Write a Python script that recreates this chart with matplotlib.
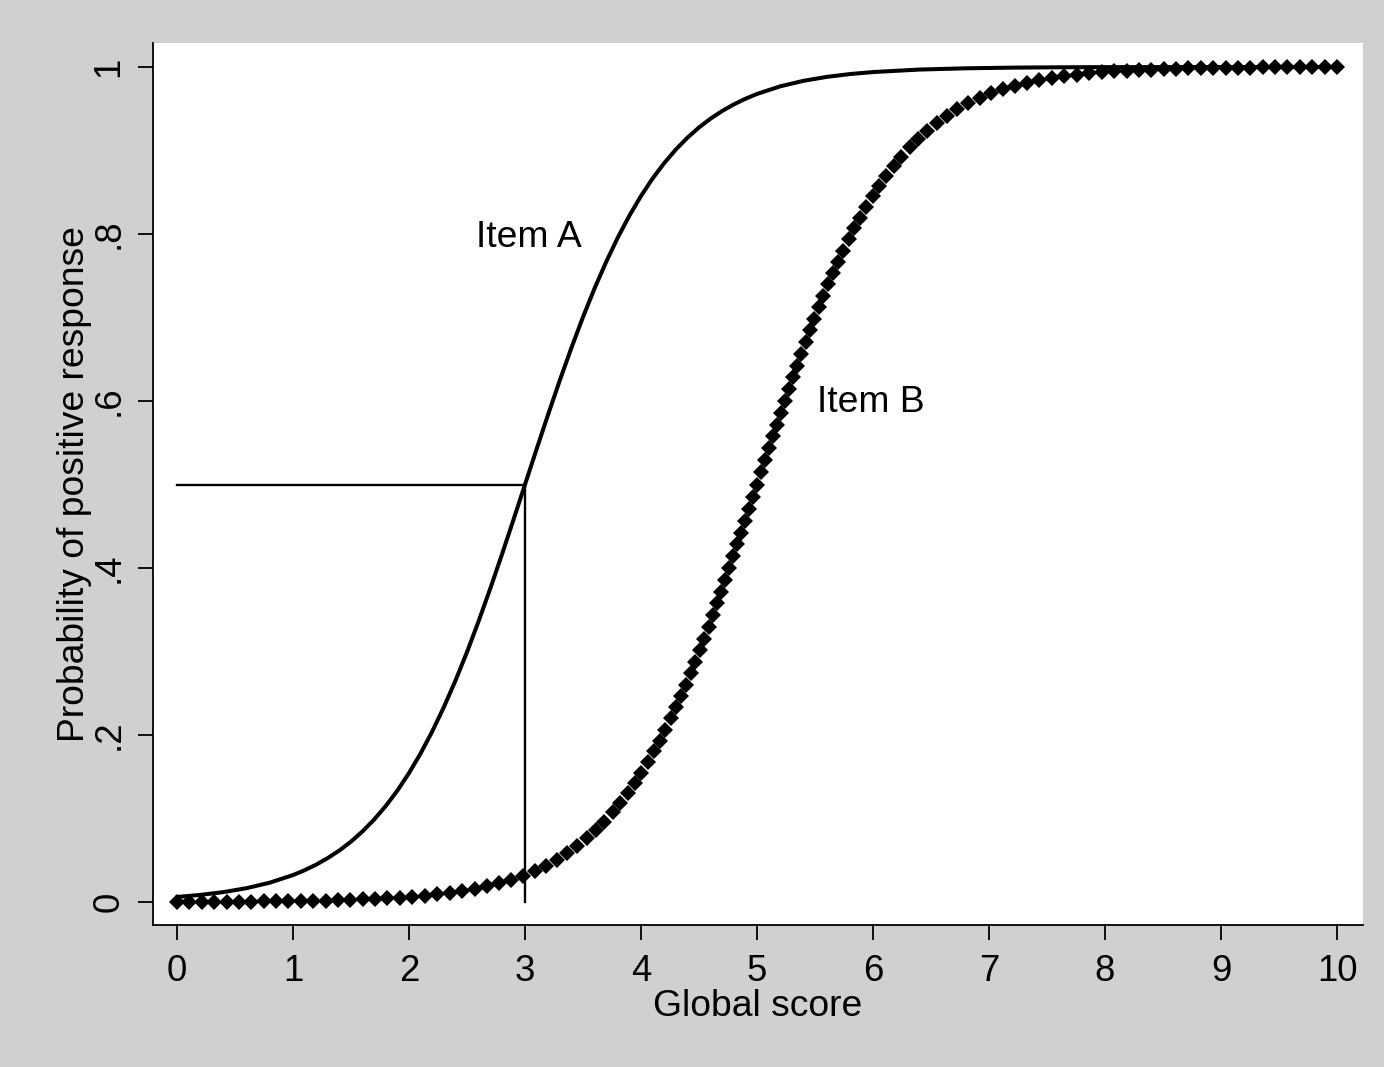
import matplotlib
matplotlib.use("Agg")
import matplotlib.pyplot as plt

plt.rcParams['font.family'] = ['Liberation Sans', 'DejaVu Sans']

# Item A (solid curve)
item_a_x = [0.0, 0.2, 0.4, 0.6, 0.8, 1.0, 1.1, 1.2, 1.3, 1.4, 1.5, 1.6, 1.7, 1.8, 1.9,
            2.0, 2.1, 2.2, 2.3, 2.4, 2.5, 2.6, 2.7, 2.8, 2.9, 3.0, 3.1, 3.2, 3.3, 3.4,
            3.5, 3.6, 3.7, 3.8, 3.9, 4.0, 4.1, 4.2, 4.3, 4.4, 4.5, 4.6, 4.7, 4.8, 4.9,
            5.0, 5.2, 5.4, 5.6, 5.8, 6.0, 6.4, 6.8, 7.2, 7.6, 8.0, 9.0, 10.0]
item_a_y = [0.0061, 0.0085, 0.0119, 0.0166, 0.0232, 0.0323, 0.0381, 0.0448, 0.0527, 0.0618,
            0.0724, 0.0847, 0.0989, 0.1151, 0.1335, 0.1545, 0.1780, 0.2042, 0.2333, 0.2650,
            0.2994, 0.3363, 0.3752, 0.4158, 0.4576, 0.5000, 0.5424, 0.5842, 0.6248, 0.6637,
            0.7006, 0.7350, 0.7667, 0.7958, 0.8220, 0.8455, 0.8665, 0.8849, 0.9011, 0.9153,
            0.9276, 0.9382, 0.9473, 0.9552, 0.9619, 0.9677, 0.9768, 0.9834, 0.9881, 0.9915,
            0.9939, 0.9969, 0.9984, 0.9992, 0.9996, 0.9998, 0.9999, 1.0000]

# Item B (diamond markers)
item_b_x = [0.000, 0.107, 0.213, 0.320, 0.427, 0.534, 0.640, 0.747, 0.854, 0.961,
            1.067, 1.174, 1.281, 1.388, 1.494, 1.601, 1.708, 1.814, 1.921, 2.029,
            2.137, 2.245, 2.353, 2.460, 2.567, 2.672, 2.777, 2.881, 2.983, 3.082,
            3.179, 3.273, 3.363, 3.449, 3.532, 3.610, 3.684, 3.755, 3.821, 3.885,
            3.945, 4.002, 4.057, 4.110, 4.160, 4.208, 4.255, 4.300, 4.344, 4.386,
            4.427, 4.467, 4.506, 4.544, 4.582, 4.619, 4.655, 4.691, 4.726, 4.761,
            4.796, 4.830, 4.864, 4.898, 4.932, 4.966, 5.000,
            5.034, 5.068, 5.102, 5.136, 5.170, 5.204, 5.239, 5.274, 5.309, 5.345,
            5.381, 5.418, 5.456, 5.494, 5.533, 5.573, 5.614, 5.656, 5.700, 5.745,
            5.792, 5.840, 5.890, 5.943, 5.998, 6.055, 6.115, 6.179, 6.245, 6.316,
            6.390, 6.468, 6.551, 6.637, 6.727, 6.821, 6.918, 7.017, 7.119, 7.223,
            7.328, 7.433, 7.540, 7.647, 7.755, 7.863, 7.971, 8.079, 8.186, 8.292,
            8.399, 8.506, 8.612, 8.719, 8.826, 8.933, 9.039, 9.146, 9.253, 9.360,
            9.466, 9.573, 9.680, 9.787, 9.893, 10.000]
item_b_y = [0.0002, 0.0002, 0.0003, 0.0004, 0.0004, 0.0005, 0.0006, 0.0007, 0.0009, 0.0010,
            0.0012, 0.0015, 0.0018, 0.0021, 0.0026, 0.0031, 0.0037, 0.0044, 0.0053, 0.0064,
            0.0076, 0.0092, 0.0110, 0.0132, 0.0157, 0.0187, 0.0223, 0.0265, 0.0314, 0.0369,
            0.0433, 0.0504, 0.0582, 0.0668, 0.0762, 0.0861, 0.0964, 0.1075, 0.1187, 0.1306,
            0.1426, 0.1549, 0.1675, 0.1805, 0.1934, 0.2065, 0.2199, 0.2333, 0.2469, 0.2604,
            0.2741, 0.2878, 0.3016, 0.3153, 0.3295, 0.3435, 0.3575, 0.3716, 0.3856, 0.3998,
            0.4142, 0.4282, 0.4425, 0.4568, 0.4712, 0.4856, 0.5000,
            0.5144, 0.5288, 0.5432, 0.5575, 0.5718, 0.5858, 0.6002, 0.6144, 0.6284, 0.6425,
            0.6565, 0.6705, 0.6847, 0.6984, 0.7122, 0.7259, 0.7396, 0.7531, 0.7667, 0.7801,
            0.7935, 0.8066, 0.8195, 0.8325, 0.8451, 0.8574, 0.8694, 0.8813, 0.8925, 0.9036,
            0.9139, 0.9238, 0.9332, 0.9418, 0.9496, 0.9567, 0.9631, 0.9686, 0.9735, 0.9777,
            0.9813, 0.9843, 0.9868, 0.9890, 0.9908, 0.9924, 0.9936, 0.9947, 0.9956, 0.9963,
            0.9969, 0.9974, 0.9979, 0.9982, 0.9985, 0.9988, 0.9990, 0.9991, 0.9993, 0.9994,
            0.9995, 0.9996, 0.9996, 0.9997, 0.9998, 0.9998]

# Reference lines for Item A at P = 0.5
ref_x = 3.0
ref_p = 0.5

x_ticks = [0, 1, 2, 3, 4, 5, 6, 7, 8, 9, 10]
x_tick_labels = ['0', '1', '2', '3', '4', '5', '6', '7', '8', '9', '10']
y_ticks = [0, 0.2, 0.4, 0.6, 0.8, 1.0]
y_tick_labels = ['0', '.2', '.4', '.6', '.8', '1']

label_a = 'Item A'
label_b = 'Item B'
label_a_pos = (2.58, 0.796)
label_b_pos = (5.52, 0.598)

bg = '#d0d0d0'
fig = plt.figure(figsize=(13.84, 10.67), dpi=100, facecolor=bg)
ax = fig.add_axes([153/1384, 1 - 925/1067, 1210/1384, 882/1067])
ax.set_facecolor('white')

ax.plot(item_a_x, item_a_y, color='black', lw=2.9, solid_capstyle='round', zorder=3)
ax.plot(item_b_x, item_b_y, linestyle='none', marker='D', markersize=7.8,
        color='black', markeredgewidth=0, zorder=3)

ax.plot([0, ref_x], [ref_p, ref_p], color='black', lw=1.7, zorder=2)
ax.plot([ref_x, ref_x], [0, ref_p], color='black', lw=1.7, zorder=2)

ax.text(label_a_pos[0], label_a_pos[1], label_a, fontsize=26.8, va='center', ha='left')
ax.text(label_b_pos[0], label_b_pos[1], label_b, fontsize=26.8, va='center', ha='left')

ax.set_xlim(-0.207, 10.224)
ax.set_ylim(-0.0275, 1.0287)

ax.set_xticks(x_ticks)
ax.set_xticklabels(x_tick_labels)
ax.set_yticks(y_ticks)
ax.set_yticklabels(y_tick_labels, rotation=90, va='center')

for s in ['top', 'right']:
    ax.spines[s].set_visible(False)
for s in ['left', 'bottom']:
    ax.spines[s].set_linewidth(1.3)
    ax.spines[s].set_color('black')

ax.tick_params(axis='both', direction='out', length=11, width=1.3, labelsize=26.3,
               colors='black')
ax.tick_params(axis='x', pad=10)
ax.tick_params(axis='y', pad=8)

ax.set_xlabel('Global score', fontsize=26.8, labelpad=0)
ax.set_ylabel('Probability of positive response', fontsize=26.8, labelpad=0)

fig.savefig('out.png', dpi=100, facecolor=bg)
